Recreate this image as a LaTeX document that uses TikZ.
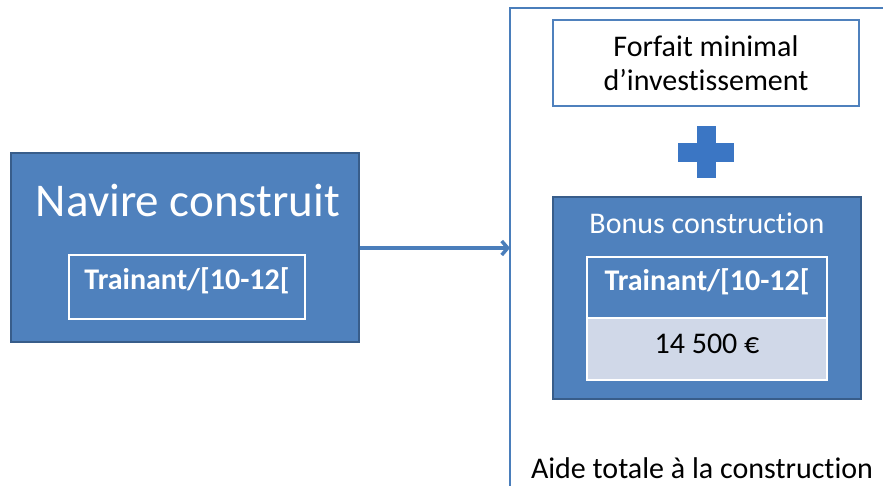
\documentclass[tikz,border=0pt]{standalone}
\usepackage{fontspec}
\setmainfont{Carlito}[RawFeature={-liga;-dlig;-clig}]
\usetikzlibrary{arrows.meta}
\definecolor{accent}{HTML}{4F81BD}
\definecolor{accentdark}{HTML}{385D8A}
\definecolor{linecol}{HTML}{4A7EBB}
\definecolor{cellfill}{HTML}{D0D8E8}
\definecolor{pluscol}{HTML}{3B76C4}
\tikzset{
  bluebox/.style={draw=accentdark, line width=2pt, fill=accent, inner sep=0pt},
  whitebox/.style={draw=white, line width=2pt, inner sep=0pt},
  outlinebox/.style={draw=accent, line width=1.5pt, fill=white, inner sep=0pt},
  lbl/.style={inner sep=0pt, anchor=base},
  arr/.style={draw=linecol, line width=3.5pt, -{Straight Barb[length=6pt,width=14pt]}}
}
\begin{document}
\begin{tikzpicture}[x=1pt,y=-1pt]
\useasboundingbox (0,0) rectangle (883,485);
\clip (0,0) rectangle (883,485);
% outer frame
\node[draw=linecol, line width=1.8pt, minimum width=420pt, minimum height=520pt, inner sep=0pt] (frame) at (720,268) {};
\coordinate (fl) at (510,248);
% left box
\node[bluebox, minimum width=348pt, minimum height=189pt] (nav) at (185,247.5) {};
\node[lbl, text=white, font=\fontsize{47}{50}\selectfont] (navt) at (188,216) {Navire construit};
\node[whitebox, minimum width=236pt, minimum height=64pt] (navin) at (187,287) {};
\node[lbl, text=white, font=\fontsize{30}{32}\selectfont\bfseries] (navint) at (187,289) {Trainant/[10-12[};
% arrow
\draw[arr] (nav.east |- fl) -- (fl);
% forfait
\node[outlinebox, minimum width=306pt, minimum height=86pt] (forf) at (706,63) {};
\node[lbl, font=\fontsize{30}{32}\selectfont] (forf1) at (706,56) {Forfait minimal};
\node[lbl, font=\fontsize{30}{32}\selectfont] (forf2) at (706,90) {d’investissement};
% plus
\fill[pluscol] (697,126) rectangle (716,178);
\fill[pluscol] (678,143) rectangle (734,162);
% bonus box
\node[bluebox, minimum width=308pt, minimum height=202pt] (bonus) at (707,298) {};
\node[lbl, text=white, font=\fontsize{30}{32}\selectfont] (bonust) at (707,233) {Bonus construction};
\node[whitebox, fill=accent, minimum width=240pt, minimum height=61pt] (cell1) at (707,287.5) {};
\node[whitebox, fill=cellfill, minimum width=240pt, minimum height=62pt] (cell2) at (707,349) {};
\node[lbl, text=white, font=\fontsize{30}{32}\selectfont\bfseries] (cell1t) at (707,290) {Trainant/[10-12[};
\node[lbl, font=\fontsize{30}{32}\selectfont] (cell2t) at (707,353) {14 500 €};
% bottom caption
\node[lbl, font=\fontsize{30}{32}\selectfont] (aide) at (702,478) {Aide totale à la construction};
\end{tikzpicture}
\end{document}
